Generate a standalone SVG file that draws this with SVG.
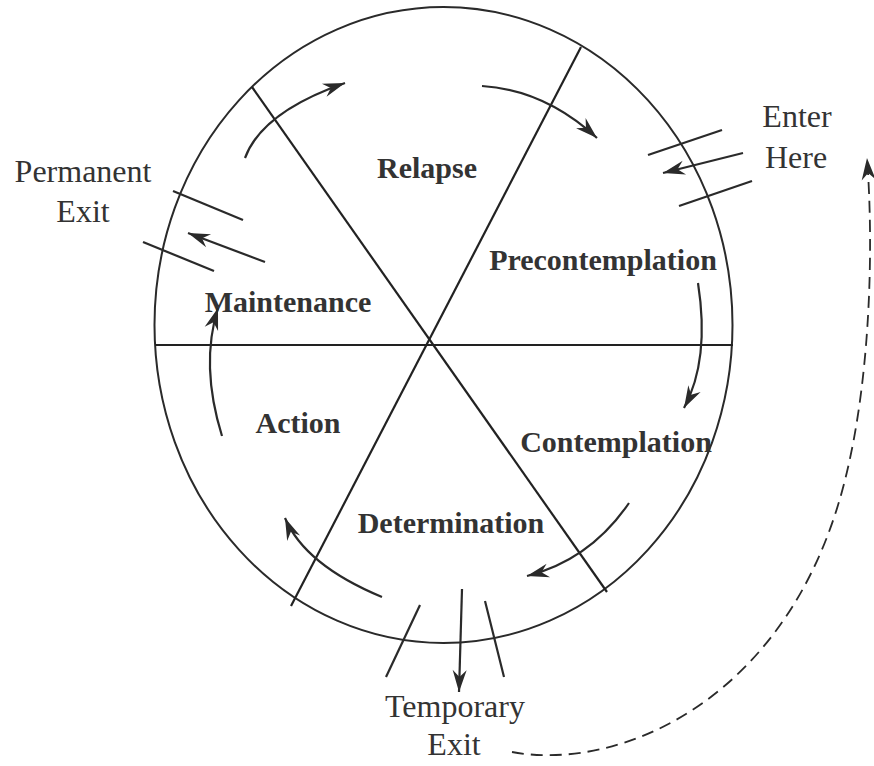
<svg xmlns="http://www.w3.org/2000/svg" width="874" height="766" viewBox="0 0 874 766">
  <defs>
    <style>
      .bg { fill: #ffffff; }
      .outline { fill: none; stroke: #2a2a2a; stroke-width: 2; }
      .div { fill: none; stroke: #222222; stroke-width: 2.2; }
      .arc { fill: none; stroke: #2a2a2a; stroke-width: 2.2; marker-end: url(#head); }
      .tick { fill: none; stroke: #2a2a2a; stroke-width: 2.2; }
      .dash { fill: none; stroke: #2a2a2a; stroke-width: 1.8; stroke-dasharray: 12 7; marker-end: url(#head); }
      .stage { font-family: "Liberation Serif", "Times New Roman", serif; font-weight: bold; font-size: 30px; fill: #333333; text-anchor: middle; }
      .label { font-family: "Liberation Serif", "Times New Roman", serif; font-size: 32px; fill: #333333; text-anchor: middle; }
    </style>
    <marker id="head" viewBox="-24 -9 26 18" refX="0" refY="0" markerWidth="26" markerHeight="18" markerUnits="userSpaceOnUse" orient="auto">
      <path d="M0,0 L-22,-7 L-15,0 L-22,7 Z" fill="#2a2a2a"/>
    </marker>
  </defs>
  <rect class="bg" x="0" y="0" width="874" height="766"/>

  <g id="wheel">
    <ellipse class="outline" cx="443.5" cy="325" rx="289" ry="318"/>
    <line class="div" x1="155" y1="345" x2="733" y2="345"/>
    <line class="div" x1="252" y1="87" x2="607" y2="592"/>
    <line class="div" x1="581" y1="47" x2="291" y2="606"/>
  </g>

  <g id="relapse"><text class="stage" x="427" y="178">Relapse</text></g>
  <g id="precontemplation"><text class="stage" x="603" y="270">Precontemplation</text></g>
  <g id="contemplation"><text class="stage" x="616" y="452">Contemplation</text></g>
  <g id="determination"><text class="stage" x="451" y="533">Determination</text></g>
  <g id="action"><text class="stage" x="298" y="433">Action</text></g>
  <g id="maintenance"><text class="stage" x="288" y="312">Maintenance</text></g>

  <g id="enter-here">
    <text class="label" x="797" y="127">Enter</text>
    <text class="label" x="796" y="168">Here</text>
    <line class="tick" x1="648" y1="155" x2="722" y2="130"/>
    <line class="tick" x1="679" y1="206" x2="752" y2="181"/>
  </g>
  <g id="permanent-exit">
    <text class="label" x="83" y="182">Permanent</text>
    <text class="label" x="83" y="222">Exit</text>
    <line class="tick" x1="173" y1="191" x2="243" y2="220"/>
    <line class="tick" x1="143" y1="242" x2="214" y2="271"/>
  </g>
  <g id="temporary-exit">
    <text class="label" x="455" y="717">Temporary</text>
    <text class="label" x="454" y="755">Exit</text>
    <line class="tick" x1="386" y1="677" x2="420" y2="605"/>
    <line class="tick" x1="485" y1="601" x2="504" y2="677"/>
  </g>

  <g id="connectors">
    <path class="arc" d="M245,158 Q262,112 345,83"/>
    <path class="arc" d="M482,86 Q545,90 597,138"/>
    <path class="arc" d="M698,283 Q710,360 684,408"/>
    <path class="arc" d="M629,503 Q590,560 527,576"/>
    <path class="arc" d="M382,597 Q305,565 285,518"/>
    <path class="arc" d="M222,436 Q200,365 218,308"/>
    <path class="arc" d="M743,153 L663,173"/>
    <path class="arc" d="M265,262 L188,233"/>
    <path class="arc" d="M462,589 L459,692"/>
    <path class="dash" d="M512,752 C620,772 790,700 845,480 C870,381 874,250 867,158"/>
  </g>
</svg>
